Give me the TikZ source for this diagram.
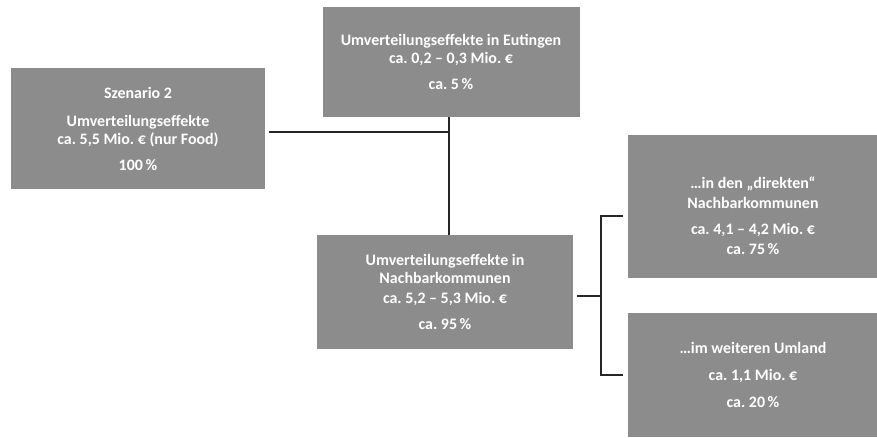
\documentclass[tikz,border=0pt]{standalone}
\usepackage{fontspec}
\setmainfont{Carlito}
\usetikzlibrary{positioning}
\definecolor{boxgray}{HTML}{8C8C8C}
\frenchspacing

\begin{document}
\begin{tikzpicture}[x=1bp, y=-1bp,
    effbox/.style={fill=boxgray, text=white, inner sep=0pt, align=center,
      font=\bfseries\fontsize{16}{18}\selectfont},
    conn/.style={line width=1.1bp, black!85}]
  \useasboundingbox (0,0) rectangle (877,438);
  % boxes
  \node[effbox, minimum width=253bp, minimum height=121bp] (szen) at (138,129)
    {Szenario 2\\[10pt] Umverteilungseffekte\\ ca. 5,5 Mio. € (nur Food)\\[8pt] 100\,\%};
  \node[effbox, minimum width=257bp, minimum height=110bp] (eut) at (451,62)
    {Umverteilungseffekte in Eutingen\\ ca. 0,2 – 0,3 Mio. €\\[8pt] ca. 5\,\%};
  \node[effbox, minimum width=256bp, minimum height=113bp] (nach) at (445,292)
    {Umverteilungseffekte in\\ Nachbarkommunen\\[2pt] ca. 5,2 – 5,3 Mio. €\\[9pt] ca. 95\,\%};
  \node[effbox, minimum width=250bp, minimum height=143bp] (dir) at (753,207)
    {\rule{0pt}{30pt}…in den „direkten“\\[2pt] Nachbarkommunen\\[8pt] ca. 4,1 – 4,2 Mio. €\\[2pt] ca. 75\,\%};
  \node[effbox, minimum width=250bp, minimum height=124bp] (uml) at (753,375)
    {…im weiteren Umland\\[9pt] ca. 1,1 Mio. €\\[9pt] ca. 20\,\%};
  % connectors
  \coordinate (jt) at (449,132);
  \coordinate (kd) at (601,216);
  \coordinate (ke) at (601,375);
  \draw[conn, shorten <=4bp] (szen.east |- jt) -- (jt);
  \draw[conn] (eut.south -| jt) -- (nach.north -| jt);
  \draw[conn, shorten <=4bp] (nach.east |- 0,296) -- (0,296 -| kd);
  \draw[conn, shorten <=5bp, shorten >=5bp] (dir.west |- kd) -- (kd) -- (ke) -- (uml.west |- ke);
\end{tikzpicture}
\end{document}
